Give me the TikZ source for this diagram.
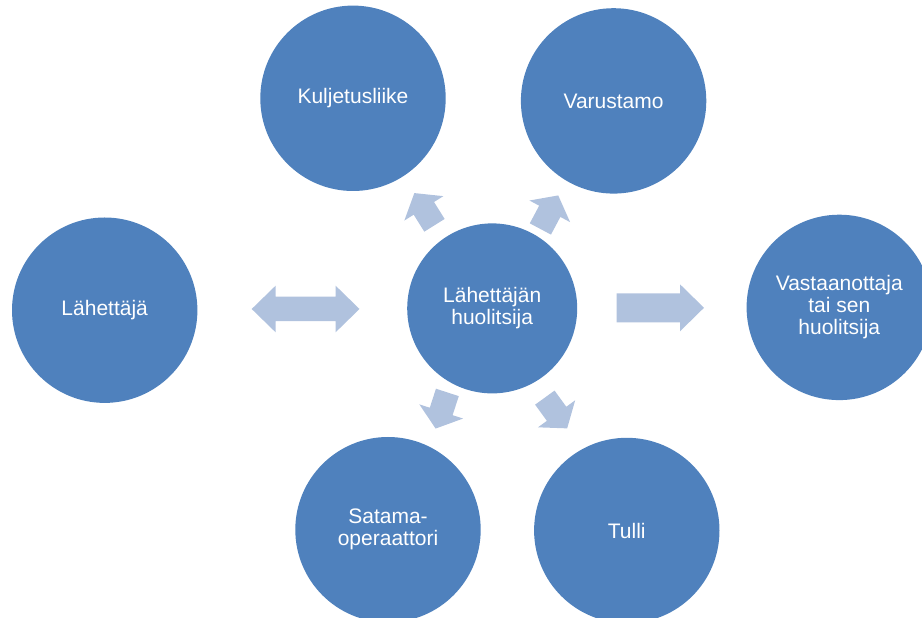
\documentclass[tikz,border=0pt]{standalone}
\usepackage{fontspec}
\setmainfont{Liberation Sans}
\definecolor{circblue}{HTML}{4F81BD}
\definecolor{arrowblue}{HTML}{B0C2DE}
\tikzset{
  x=1pt, y=1pt,
  bubble/.style={circle, fill=circblue, draw=none, text=white, inner sep=0pt,
    minimum size=#1, align=center,
    font=\fontsize{21}{22}\selectfont},
  bubble/.default=185.4pt,
  diagarrow/.pic={\fill[arrowblue] (-19,-12) -- (1,-12) -- (1,-23) -- (19,0) -- (1,23) -- (1,12) -- (-19,12) -- cycle;},
  dblarrow/.pic={\fill[arrowblue] (-53.9,0) -- (-30,23.3) -- (-30,12.25) -- (30,12.25) -- (30,23.3) -- (53.9,0) -- (30,-23.3) -- (30,-12.25) -- (-30,-12.25) -- (-30,-23.3) -- cycle;},
  rightarrow/.pic={\fill[arrowblue] (-43.65,-14.5) -- (19.65,-14.5) -- (19.65,-23.5) -- (43.65,0) -- (19.65,23.5) -- (19.65,14.5) -- (-43.65,14.5) -- cycle;}
}
\begin{document}
\begin{tikzpicture}
\useasboundingbox (0,0) rectangle (922,618);
\node[bubble] (kul) at (353,519.7) {Kuljetusliike};
\node[bubble] (var) at (613.6,517.1) {Varustamo};
\node[bubble] (lah) at (104.7,307.8) {Lähettäjä};
\node[bubble=170pt] (huo) at (492.2,309.6) {Lähettäjän\\huolitsija};
\node[bubble] (vas) at (839.3,310.6) {Vastaanottaja\\tai sen\\huolitsija};
\node[bubble] (sat) at (388,88.3) {Satama-\\operaattori};
\node[bubble] (tul) at (626.8,87.5) {Tulli};
\pic at (305.6,309) {dblarrow};
\pic at (660.35,310.2) {rightarrow};
\pic[rotate=122] at (424.4,408.8) {diagarrow};
\pic[rotate=62] at (549.3,405.8) {diagarrow};
\pic[rotate=-108] at (441.5,207.5) {diagarrow};
\pic[rotate=-54] at (556,205) {diagarrow};
\end{tikzpicture}
\end{document}
